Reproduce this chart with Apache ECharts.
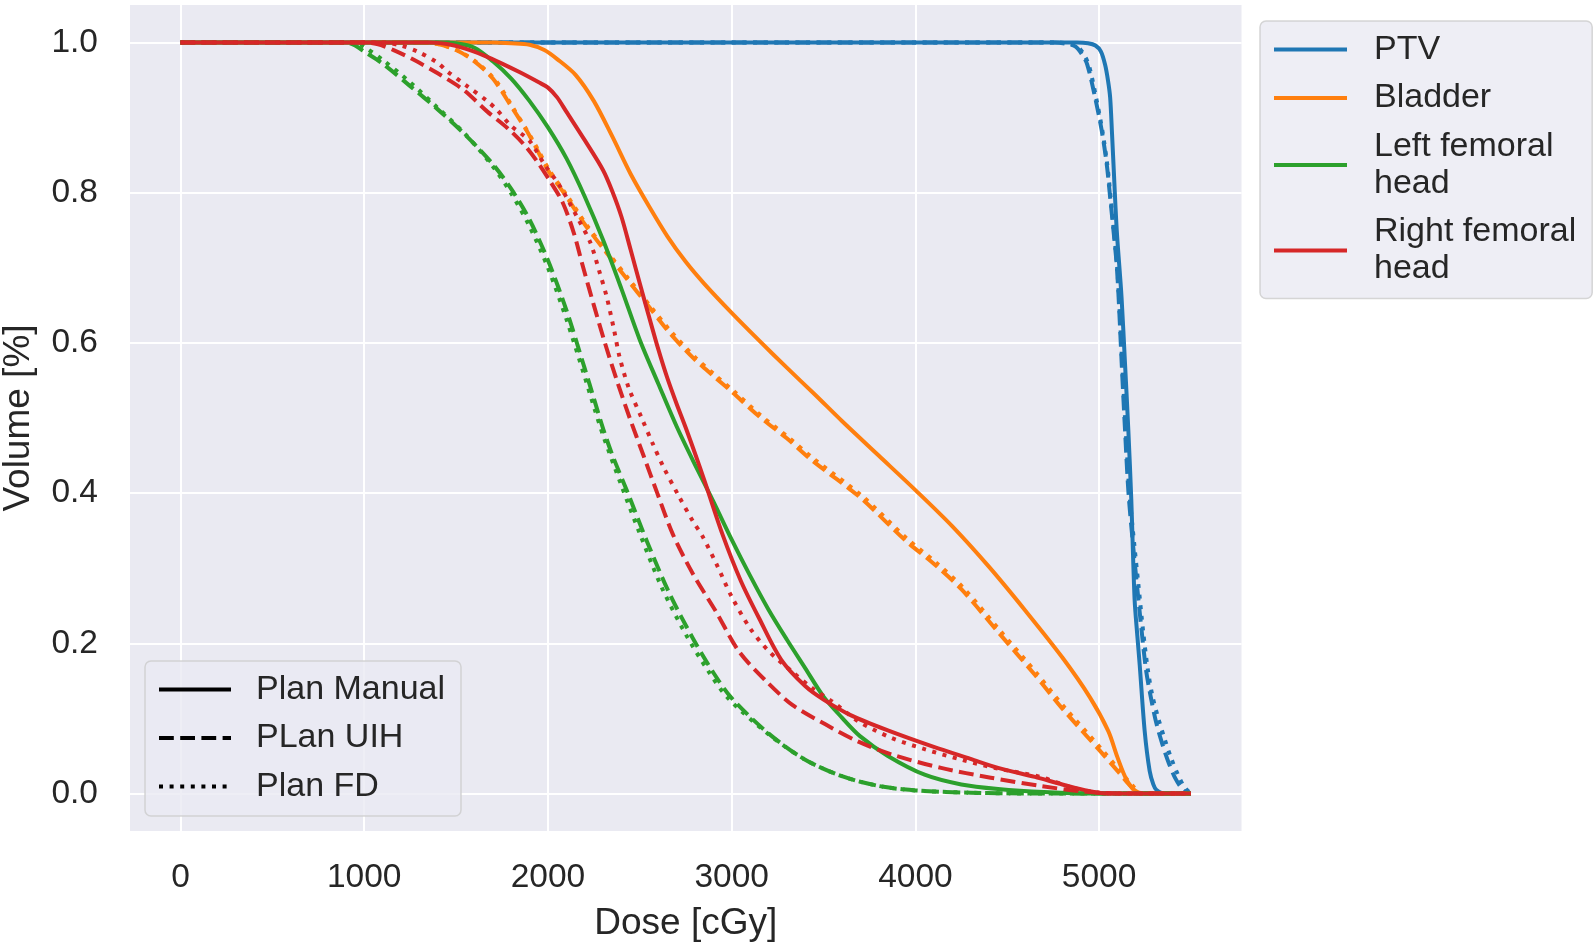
<!DOCTYPE html>
<html><head><meta charset="utf-8">
<script src="https://cdn.jsdelivr.net/npm/echarts@6/dist/echarts.min.js"></script>
<style>html,body{margin:0;padding:0;background:#fff}#c{width:1593px;height:946px}</style>
</head><body><div id="c"></div>
<script>
// ---- tick labels / categories ----
const xTicks = [0, 1000, 2000, 3000, 4000, 5000];
const yTicks = [0, 0.2, 0.4, 0.6, 0.8, 1.0];
const structures = ['PTV', 'Bladder', 'Left femoral head', 'Right femoral head'];
const plans = ['Plan Manual', 'PLan UIH', 'Plan FD'];

// ---- DVH data: [dose cGy, volume fraction] ----
const ptvManual = [[0,1],[4880,1],[4940,0.999],[4980,0.996],[5010,0.988],[5032,0.971],[5048,0.95],[5060,0.927],[5070,0.88],[5078,0.839],[5096,0.75],[5122,0.661],[5141,0.572],[5159,0.484],[5175,0.392],[5193,0.259],[5208,0.21],[5221,0.171],[5248,0.083],[5275,0.03],[5295,0.012],[5311,0.005],[5356,0],[5500,0]];
const ptvUIH = [[0,1],[4760,1],[4830,0.998],[4870,0.995],[4905,0.985],[4935,0.971],[4978,0.927],[5014,0.883],[5041,0.839],[5060,0.794],[5078,0.75],[5095,0.706],[5106,0.661],[5123,0.572],[5141,0.484],[5160,0.4],[5185,0.33],[5205,0.28],[5230,0.22],[5255,0.165],[5280,0.13],[5310,0.095],[5345,0.065],[5380,0.04],[5415,0.02],[5450,0.007],[5490,0],[5500,0]];
const ptvFD = [[0,1],[4780,1],[4850,0.998],[4885,0.994],[4915,0.985],[4945,0.969],[4985,0.925],[5018,0.882],[5044,0.838],[5063,0.793],[5080,0.75],[5097,0.705],[5108,0.66],[5126,0.571],[5145,0.483],[5165,0.4],[5192,0.33],[5213,0.28],[5240,0.215],[5265,0.165],[5290,0.13],[5322,0.1],[5356,0.073],[5392,0.047],[5429,0.025],[5465,0.008],[5500,0]];

const bladderManual = [[0,1],[1700,1],[1800,0.999],[1900,0.997],[1980,0.99],[2050,0.978],[2150,0.957],[2250,0.922],[2350,0.875],[2450,0.825],[2550,0.782],[2650,0.742],[2750,0.708],[2850,0.679],[3000,0.64],[3150,0.603],[3300,0.567],[3450,0.532],[3600,0.496],[3800,0.45],[4000,0.404],[4200,0.356],[4400,0.302],[4600,0.243],[4800,0.181],[4950,0.128],[5050,0.083],[5100,0.048],[5150,0.018],[5200,0.003],[5250,0],[5500,0]];
const bladderUIH = [[0,1],[1300,1],[1400,0.998],[1500,0.99],[1600,0.975],[1700,0.952],[1800,0.915],[1900,0.876],[2000,0.83],[2100,0.795],[2200,0.758],[2300,0.726],[2430,0.685],[2550,0.648],[2660,0.614],[2790,0.58],[2900,0.556],[3000,0.535],[3150,0.502],[3300,0.473],[3440,0.443],[3700,0.394],[3950,0.336],[4100,0.306],[4250,0.272],[4450,0.215],[4650,0.158],[4800,0.113],[5000,0.058],[5100,0.03],[5170,0.01],[5220,0],[5500,0]];
const bladderFD = [[0,1],[1330,1],[1420,0.997],[1520,0.988],[1620,0.972],[1720,0.948],[1810,0.913],[1910,0.873],[2010,0.829],[2110,0.794],[2210,0.757],[2310,0.725],[2440,0.685],[2560,0.648],[2670,0.615],[2800,0.581],[2910,0.557],[3010,0.536],[3160,0.503],[3310,0.474],[3450,0.445],[3710,0.396],[3960,0.338],[4110,0.308],[4260,0.274],[4460,0.217],[4660,0.16],[4810,0.115],[5010,0.06],[5110,0.031],[5180,0.011],[5235,0],[5500,0]];

const leftFemManual = [[0,1],[1400,1],[1500,0.999],[1600,0.993],[1700,0.975],[1800,0.952],[1900,0.922],[2000,0.887],[2100,0.846],[2200,0.795],[2300,0.737],[2400,0.672],[2500,0.604],[2600,0.546],[2700,0.489],[2800,0.438],[2900,0.389],[3000,0.338],[3100,0.29],[3200,0.245],[3300,0.205],[3400,0.167],[3500,0.129],[3600,0.101],[3700,0.076],[3850,0.05],[4050,0.025],[4250,0.012],[4450,0.006],[4700,0.002],[5000,0],[5500,0]];
const leftFemUIH = [[0,1],[900,1],[950,0.996],[1000,0.988],[1100,0.972],[1250,0.942],[1400,0.911],[1550,0.877],[1700,0.838],[1800,0.805],[1900,0.764],[2000,0.71],[2100,0.644],[2200,0.566],[2250,0.526],[2300,0.486],[2350,0.451],[2430,0.403],[2540,0.335],[2660,0.267],[2790,0.206],[2900,0.161],[3000,0.127],[3200,0.08],[3400,0.045],[3600,0.023],[3800,0.01],[4000,0.004],[4300,0.001],[4600,0],[5500,0]];
const leftFemFD = [[0,1],[950,1],[1000,0.994],[1100,0.977],[1250,0.947],[1400,0.913],[1550,0.878],[1700,0.835],[1800,0.799],[1900,0.755],[2000,0.7],[2100,0.632],[2200,0.555],[2250,0.515],[2300,0.477],[2400,0.41],[2500,0.346],[2620,0.274],[2750,0.212],[2870,0.164],[2980,0.127],[3200,0.079],[3400,0.045],[3600,0.023],[3800,0.01],[4000,0.004],[4300,0.001],[4600,0],[5500,0]];

const rightFemManual = [[0,1],[1350,1],[1450,0.998],[1550,0.992],[1650,0.983],[1750,0.972],[1850,0.96],[1950,0.947],[2000,0.94],[2050,0.927],[2100,0.908],[2200,0.87],[2300,0.83],[2350,0.802],[2400,0.768],[2450,0.724],[2500,0.679],[2550,0.635],[2600,0.592],[2650,0.553],[2700,0.519],[2750,0.487],[2800,0.453],[2850,0.418],[2950,0.345],[3050,0.283],[3150,0.233],[3270,0.178],[3400,0.143],[3500,0.125],[3650,0.104],[3850,0.084],[4100,0.062],[4300,0.046],[4450,0.034],[4650,0.022],[4800,0.012],[4950,0.003],[5050,0],[5500,0]];
const rightFemUIH = [[0,1],[1000,1],[1070,0.998],[1160,0.99],[1270,0.977],[1400,0.959],[1540,0.937],[1670,0.908],[1780,0.886],[1870,0.864],[1940,0.842],[2010,0.816],[2080,0.787],[2140,0.747],[2190,0.702],[2250,0.65],[2310,0.6],[2375,0.55],[2445,0.5],[2520,0.45],[2595,0.4],[2680,0.345],[2790,0.292],[2915,0.242],[3040,0.189],[3190,0.149],[3330,0.118],[3510,0.092],[3690,0.069],[3870,0.052],[4140,0.034],[4410,0.021],[4680,0.01],[4900,0.003],[5100,0],[5500,0]];
const rightFemFD = [[0,1],[1100,1],[1200,0.996],[1290,0.988],[1400,0.973],[1450,0.962],[1560,0.942],[1670,0.922],[1720,0.911],[1800,0.889],[1900,0.869],[1980,0.838],[2070,0.807],[2160,0.767],[2230,0.734],[2280,0.695],[2320,0.661],[2360,0.617],[2390,0.581],[2440,0.54],[2510,0.5],[2570,0.466],[2630,0.434],[2710,0.397],[2790,0.362],[2840,0.343],[2920,0.304],[3000,0.262],[3100,0.22],[3200,0.19],[3330,0.162],[3440,0.14],[3550,0.122],[3690,0.096],[3870,0.074],[4050,0.059],[4250,0.045],[4450,0.033],[4680,0.022],[4850,0.008],[5000,0.001],[5100,0],[5500,0]];

// ---- styles ----
const FONT = '"Liberation Sans", Arial, Helvetica, sans-serif';
const TXT = '#262626';
const colors = ['#1f77b4', '#ff7f0e', '#2ca02c', '#d62728'];
const LW = 4;
const lineTypes = ['solid', [14.8, 6.4], [4, 6.6]];

const dataSets = [
  [ptvManual, ptvUIH, ptvFD],
  [bladderManual, bladderUIH, bladderFD],
  [leftFemManual, leftFemUIH, leftFemFD],
  [rightFemManual, rightFemUIH, rightFemFD]
];

const series = [];
structures.forEach((s, i) => {
  dataSets[i].forEach((d, j) => {
    series.push({
      type: 'line', name: s, data: d, showSymbol: false, symbol: 'none',
      smooth: 0.3, color: colors[i], animation: false, silent: true,
      lineStyle: { width: LW, color: colors[i], type: lineTypes[j], cap: 'butt', join: 'round' }
    });
  });
});
plans.forEach((p, j) => {
  series.push({
    type: 'line', name: p, data: [], symbol: 'none', showSymbol: false, color: '#000',
    animation: false, lineStyle: { width: LW, color: '#000', type: lineTypes[j], cap: 'butt' }
  });
});

const legendCommon = {
  orient: 'vertical', itemWidth: 72, itemHeight: 14, itemGap: 11.5,
  padding: [10, 16, 11, 12], selectedMode: false,
  backgroundColor: 'rgba(234,234,242,0.8)', borderColor: 'rgba(204,204,204,0.8)',
  borderWidth: 1.5, borderRadius: 6,
  itemStyle: { opacity: 0 },
  lineStyle: { width: 4 },
  textStyle: { fontSize: 34, lineHeight: 37, color: TXT, fontFamily: FONT, padding: [0, 0, 0, 20] }
};

const chart = echarts.init(document.getElementById('c'), null, { renderer: 'canvas' });
chart.setOption({
  backgroundColor: '#ffffff',
  animation: false,
  textStyle: { fontFamily: FONT },
  grid: { left: 130, right: 351.5, top: 5, bottom: 115, show: true, backgroundColor: '#EAEAF2', borderWidth: 0, containLabel: false, outerBoundsMode: 'none' },
  xAxis: {
    type: 'value', min: -275, max: 5775,
    name: 'Dose [cGy]', nameLocation: 'middle', nameGap: 74,
    nameTextStyle: { fontSize: 37, color: TXT, fontFamily: FONT },
    axisLine: { show: false }, axisTick: { show: false, customValues: xTicks },
    axisLabel: { customValues: xTicks, fontSize: 33.5, color: TXT, fontFamily: FONT, margin: 30, formatter: v => String(Math.round(v)) },
    splitLine: { show: true, lineStyle: { color: '#ffffff', width: 2 } }
  },
  yAxis: {
    type: 'value', min: -0.05, max: 1.05,
    name: 'Volume [%]', nameLocation: 'middle', nameGap: 93,
    nameTextStyle: { fontSize: 37, color: TXT, fontFamily: FONT },
    axisLine: { show: false }, axisTick: { show: false, customValues: yTicks },
    axisLabel: { customValues: yTicks, fontSize: 33.5, color: TXT, fontFamily: FONT, margin: 32, formatter: v => Number(v).toFixed(1) },
    splitLine: { show: true, lineStyle: { color: '#ffffff', width: 2 } }
  },
  legend: [
    Object.assign({}, legendCommon, {
      data: structures, left: 1260, top: 21, itemWidth: 73,
      textStyle: Object.assign({}, legendCommon.textStyle, { padding: [0, 0, 0, 22] }),
      formatter: n => n.replace(' head', '\nhead')
    }),
    Object.assign({}, legendCommon, {
      data: plans, left: 145, top: 661
    })
  ],
  series: series
});
</script></body></html>
